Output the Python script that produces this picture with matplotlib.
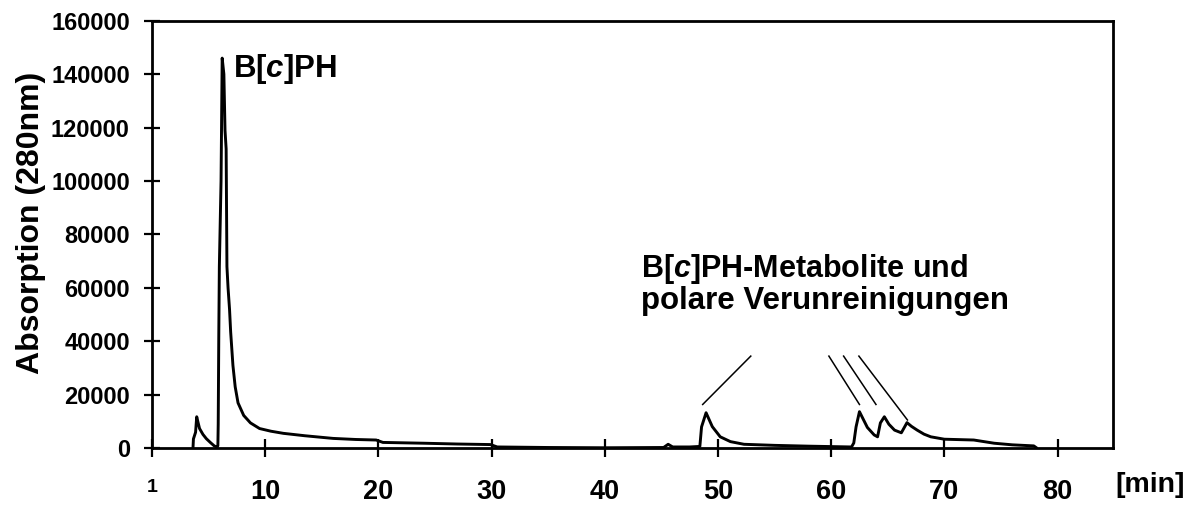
import matplotlib
matplotlib.use("Agg")
import matplotlib.pyplot as plt

plt.rcParams['font.family'] = ['Liberation Sans', 'DejaVu Sans']
plt.rcParams['font.weight'] = 'bold'
plt.rcParams['mathtext.fontset'] = 'custom'
plt.rcParams['mathtext.it'] = 'Liberation Sans:italic:bold'
plt.rcParams['mathtext.rm'] = 'Liberation Sans:bold'
plt.rcParams['mathtext.bf'] = 'Liberation Sans:bold'

# retention time [min]
time_min = [3.62, 3.66, 3.85, 3.95, 4.05, 4.2, 4.5, 4.8, 5.2, 5.5, 5.75,
            5.82, 5.85, 5.9, 5.95, 6.1, 6.2, 6.35, 6.45, 6.55, 6.62, 6.72,
            6.85, 6.95, 7.15, 7.35, 7.6, 8.1, 8.7, 9.5, 10.5, 11.6, 13.5,
            16, 18, 19.8, 20.4, 24, 27, 29.9, 30.5, 35, 40, 45.2, 45.6,
            46.0, 47.5, 48.4, 48.55, 48.95, 49.5, 50.2, 51.1, 52.3, 55, 58,
            61.8, 62.0, 62.2, 62.5, 63.2, 63.8, 64.1, 64.35, 64.7, 65.1,
            65.6, 66.2, 66.7, 67.1, 67.6, 68.2, 68.8, 70, 72.6, 74.4, 76,
            77.9, 78.1]
# absorption at 280 nm
absorption = [0, 3500, 6000, 11800, 10000, 7400, 5200, 3600, 2000, 900, 400,
              1000, 9000, 42000, 68000, 100000, 146000, 140000, 119000,
              112000, 68000, 60000, 52000, 43500, 31000, 23000, 17000,
              12300, 9500, 7400, 6400, 5600, 4700, 3700, 3300, 3100, 2200,
              1900, 1600, 1400, 500, 300, 200, 300, 1500, 500, 500, 700,
              8000, 13300, 8100, 4300, 2500, 1500, 1100, 800, 500, 2000,
              8000, 13700, 7800, 5000, 4300, 9500, 11800, 9000, 6800, 5800,
              9600, 8200, 6800, 5300, 4300, 3400, 3100, 1900, 1300, 900, 300]

x_ticks = [0, 10, 20, 30, 40, 50, 60, 70, 80]
x_tick_labels = ["1", "10", "20", "30", "40", "50", "60", "70", "80"]
y_ticks = [0, 20000, 40000, 60000, 80000, 100000, 120000, 140000, 160000]

# annotation pointer lines: (x0, y0, x1, y1) in data units
pointer_x0 = [48.65, 59.8, 61.1, 62.45]
pointer_y0 = [16400, 34500, 34500, 34500]
pointer_x1 = [52.9, 62.5, 63.96, 66.74]
pointer_y1 = [34500, 16400, 16400, 10600]

fig = plt.figure(figsize=(11.95, 5.05), dpi=100)
ax = fig.add_axes([152 / 1195, 1 - 448.3 / 505, (1113 - 152) / 1195, (448.3 - 20.7) / 505])

ax.plot(time_min, absorption, color='black', lw=2.1, solid_joinstyle='round')

for a, b, c, d in zip(pointer_x0, pointer_y0, pointer_x1, pointer_y1):
    ax.plot([a, c], [b, d], color='black', lw=1.1)

ax.set_xlim(0, 84.9)
ax.set_ylim(0, 160000)
ax.set_xticks(x_ticks)
ax.set_xticklabels(x_tick_labels)
ax.set_yticks(y_ticks)
ax.set_yticklabels([str(v) for v in y_ticks])

for s in ax.spines.values():
    s.set_linewidth(2.0)

ax.tick_params(axis='y', direction='inout', length=12, width=1.6, pad=10,
               labelsize=17)
ax.tick_params(axis='x', direction='inout', length=13.5, width=1.6, pad=15,
               labelsize=19.5)
for lab in ax.get_yticklabels() + ax.get_xticklabels():
    lab.set_fontweight('bold')
ax.get_xticklabels()[0].set_fontsize(14)

ax.set_ylabel("Absorption (280nm)", fontsize=23, fontweight='bold')
ax.yaxis.set_label_coords(-0.110, 0.527)

fig.text(1150 / 1195, 1 - 485 / 505, "[min]", fontsize=20.5, fontweight='bold',
         ha='center', va='center')

ax.text(7.12, 139000, r"B[$\mathit{c}$]PH", fontsize=22.5, fontweight='bold',
        ha='left', va='baseline')
ax.text(43.2, 64200, r"B[$\mathit{c}$]PH-Metabolite und", fontsize=22,
        fontweight='bold', ha='left', va='baseline')
ax.text(43.2, 52100, "polare Verunreinigungen", fontsize=22.5,
        fontweight='bold', ha='left', va='baseline')

fig.savefig("out.png", dpi=100)
